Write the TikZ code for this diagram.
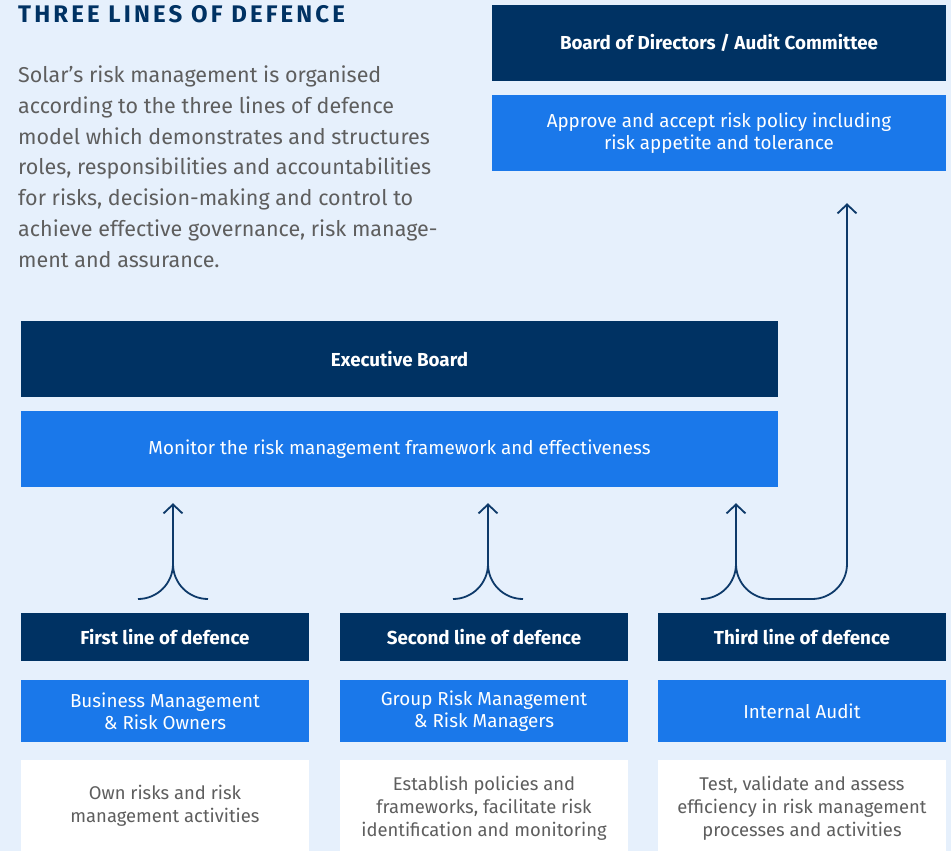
\documentclass[tikz,border=0pt]{standalone}
\usepackage{fontspec}
\setmainfont{Fira Sans}
\usetikzlibrary{arrows.meta}
\definecolor{bgblue}{HTML}{E6F0FC}
\definecolor{navy}{HTML}{003263}
\definecolor{brightblue}{HTML}{1A78EA}
\definecolor{greytext}{HTML}{5E5E5E}
\definecolor{linecol}{HTML}{0E3A6A}
\begin{document}
\begin{tikzpicture}[x=1pt,y=-1pt,
  darkbox/.style={rectangle,fill=navy,text=white,inner sep=0pt,
    font=\fontsize{18.8}{22}\selectfont\bfseries,align=center},
  bluebox/.style={rectangle,fill=brightblue,text=white,inner sep=0pt,
    font=\fontsize{18.8}{22}\selectfont,align=center},
  whitebox/.style={rectangle,fill=white,text=greytext,inner sep=0pt,
    font=\fontsize{18.4}{23}\selectfont,align=center},
  link/.style={draw=linecol,line width=1.8pt},
  uparrow/.style={link,-{Straight Barb[length=9pt,width=19pt,line width=1.8pt]}},
]
% canvas
\fill[bgblue] (0,0) rectangle (951,851);
\useasboundingbox (0,0) rectangle (951,851);

% heading and introduction
\node[anchor=base west,inner sep=0pt,text=navy,
  font=\fontsize{24}{26}\selectfont\bfseries\addfontfeatures{LetterSpace=13}] (title) at (18,22.5)
  {THREE LINES OF DEFENCE};
\node[anchor=base west,inner sep=0pt,text=greytext,align=left,
  font=\fontsize{21.5}{30.7}\selectfont] (intro) at (18,267)
  {Solar’s risk management is organised\\
   according to the three lines of defence\\
   model which demonstrates and structures\\
   roles, responsibilities and accountabilities\\
   for risks, decision-making and control to\\
   achieve effective governance, risk manage-\\
   ment and assurance.};

% governing bodies
\node[darkbox,minimum width=454pt,minimum height=76pt] (board) at (719,43)
  {Board of Directors / Audit Committee};
\node[bluebox,minimum width=454pt,minimum height=76pt] (approve) at (719,133)
  {Approve and accept risk policy including\\risk appetite and tolerance};
\node[darkbox,minimum width=757pt,minimum height=76pt] (exec) at (399.5,359)
  {Executive Board};
\node[bluebox,minimum width=757pt,minimum height=76pt] (monitor) at (399.5,449)
  {Monitor the risk management framework and effectiveness};

% the three lines
\node[darkbox,minimum width=288pt,minimum height=48pt] (first) at (165,637)
  {First line of defence};
\node[darkbox,minimum width=288pt,minimum height=48pt] (second) at (484,637)
  {Second line of defence};
\node[darkbox,minimum width=288pt,minimum height=48pt] (third) at (802,637)
  {Third line of defence};

\node[bluebox,minimum width=288pt,minimum height=62pt] (firstrole) at (165,711)
  {Business Management\\\& Risk Owners};
\node[bluebox,minimum width=288pt,minimum height=62pt] (secondrole) at (484,711)
  {Group Risk Management\\\& Risk Managers};
\node[bluebox,minimum width=288pt,minimum height=62pt] (thirdrole) at (802,711)
  {Internal Audit};

% description panels run off the lower edge
\node[whitebox,minimum width=288pt,minimum height=91pt] (firstdesc) at (165,805.5)
  {Own risks and risk\\management activities};
\node[whitebox,minimum width=288pt,minimum height=96pt] (seconddesc) at (484,808)
  {Establish policies and\\frameworks, facilitate risk\\identification and monitoring};
\node[whitebox,minimum width=288pt,minimum height=96pt] (thirddesc) at (802,808)
  {Test, validate and assess\\efficiency in risk management\\processes and activities};

% merge points of the reporting lines
\coordinate (m1) at (173,564);
\coordinate (m2) at (488,564);
\coordinate (m3) at (736,564);
\coordinate (bend) at (847,599);

% reporting lines into the Executive Board
\foreach \m in {m1,m2,m3}{
  \draw[link,rounded corners=35pt] ([xshift=-35pt]\m |- bend) -| (\m);
  \draw[uparrow] (\m) -- ([yshift=-16pt]monitor.south -| \m);
}
\foreach \m in {m1,m2}{
  \draw[link,rounded corners=35pt] ([xshift=35pt]\m |- bend) -| (\m);
}
% third line reports on to the Board of Directors
\draw[uparrow,rounded corners=35pt] (m3) |- (bend) -- ([yshift=-32pt]approve.south -| bend);
\end{tikzpicture}
\end{document}
